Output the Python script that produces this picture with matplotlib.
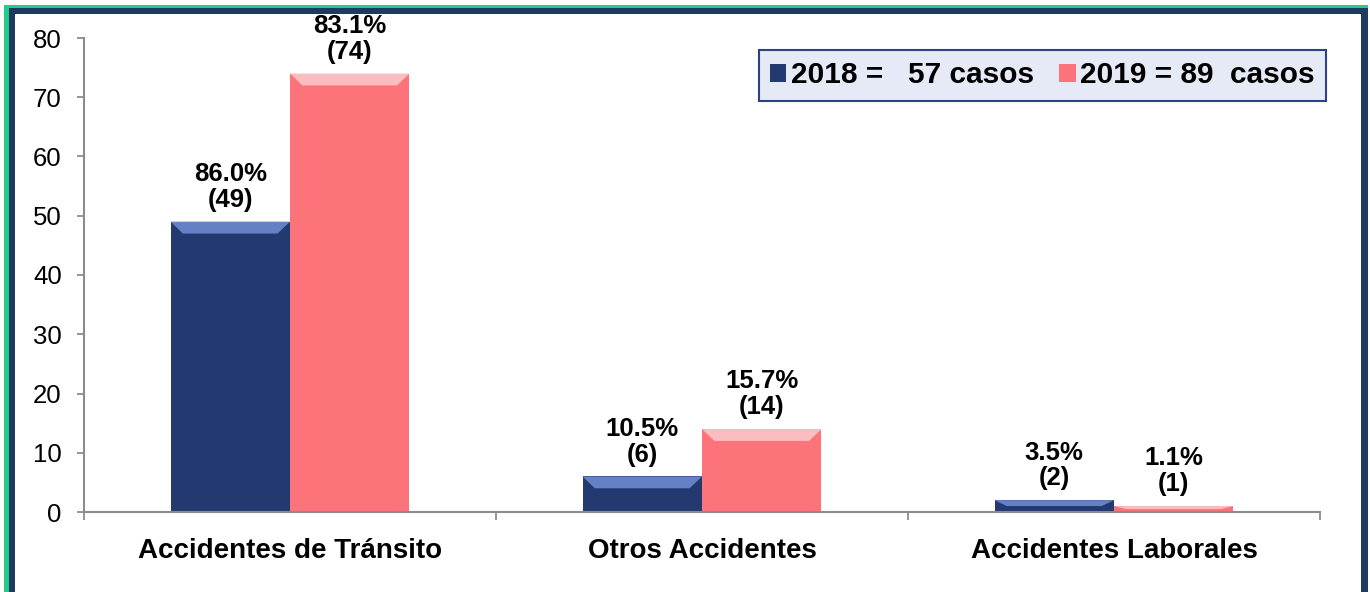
import numpy as np
import matplotlib
matplotlib.use("Agg")
import matplotlib.pyplot as plt
from matplotlib.patches import Polygon, Rectangle

plt.rcParams['font.family'] = ['Liberation Sans', 'DejaVu Sans']

categories = ['Accidentes de Tránsito', 'Otros Accidentes', 'Accidentes Laborales']
casos_2018 = [49, 6, 2]
casos_2019 = [74, 14, 1]
pct_2018 = ['86.0%', '10.5%', '3.5%']
pct_2019 = ['83.1%', '15.7%', '1.1%']
legend_labels = ['2018 =   57 casos', '2019 = 89  casos']
yticks = [0, 10, 20, 30, 40, 50, 60, 70, 80]

navy = '#223a6f'
navy_top = '#6381c4'
pink = '#fd737a'
pink_top = '#fcbdc0'
axis_grey = '#8c8c8c'

fig = plt.figure(figsize=(13.7, 5.92), dpi=100)
W, H = 1370, 592

# frame (green outer line, navy inner line)
def px_rect(x0, y0, x1, y1, color):
    fig.patches.append(Rectangle((x0 / W, 1 - y1 / H), (x1 - x0) / W, (y1 - y0) / H,
                                 transform=fig.transFigure, facecolor=color,
                                 edgecolor='none', zorder=-10))
px_rect(4, 5, 1368, 600, '#22cc8a')
px_rect(9, 8, 1368, 600, '#1d3a5f')
px_rect(15, 14, 1361, 600, 'white')

ax = fig.add_axes([84 / W, 1 - 512 / H, (1320 - 84) / W, (512 - 38) / H])
ax.set_facecolor('none')

x = np.arange(len(categories))
w = 0.29
b1 = ax.bar(x - w / 2, casos_2018, w, color=navy, label=legend_labels[0], zorder=2)
b2 = ax.bar(x + w / 2, casos_2019, w, color=pink, label=legend_labels[1], zorder=2)

# bevelled top of each bar
for bars, light in ((b1, navy_top), (b2, pink_top)):
    for r in bars:
        x0, x1, h = r.get_x(), r.get_x() + r.get_width(), r.get_height()
        bh = min(2.0, h * 0.5)
        d = 0.03
        ax.add_patch(Polygon([(x0, h), (x1, h), (x1 - d, h - bh), (x0 + d, h - bh)],
                             closed=True, facecolor=light, edgecolor='none', zorder=3))

for bars, pcts, vals in ((b1, pct_2018, casos_2018), (b2, pct_2019, casos_2019)):
    for r, p, v in zip(bars, pcts, vals):
        ax.annotate(f'{p}\n({v})', (r.get_x() + r.get_width() / 2, r.get_height()),
                    xytext=(0, 7), textcoords='offset points', ha='center', va='bottom',
                    fontsize=18.5, fontweight='bold', linespacing=1.1, annotation_clip=False)

ax.set_xlim(-0.5, 2.5)
ax.set_ylim(0, 80)
ax.set_yticks(yticks)
ax.tick_params(axis='y', labelsize=18.5, color=axis_grey, length=5, width=1.3, pad=11)
ax.set_xticks(x)
ax.set_xticklabels(categories, fontsize=20, fontweight='bold')
ax.tick_params(axis='x', length=0, pad=19)
ax.set_xticks([-0.5, 0.5, 1.5, 2.5], minor=True)
ax.tick_params(axis='x', which='minor', length=6, color=axis_grey, width=1.3, direction='out')

for s in ('top', 'right'):
    ax.spines[s].set_visible(False)
for s in ('left', 'bottom'):
    ax.spines[s].set_color(axis_grey)
    ax.spines[s].set_linewidth(1.5)

leg = ax.legend(loc='upper right', bbox_to_anchor=(1.005, 0.975), ncol=2,
                prop={'weight': 'bold', 'size': 21.5}, handlelength=0.55, handleheight=0.55,
                handletextpad=0.15, columnspacing=0.85, borderpad=0.38, borderaxespad=0,
                fancybox=False, framealpha=1)
leg.get_frame().set_facecolor('#e6eaf7')
leg.get_frame().set_edgecolor('#2d4283')
leg.get_frame().set_linewidth(1.5)

fig.savefig('out.png', dpi=100)
